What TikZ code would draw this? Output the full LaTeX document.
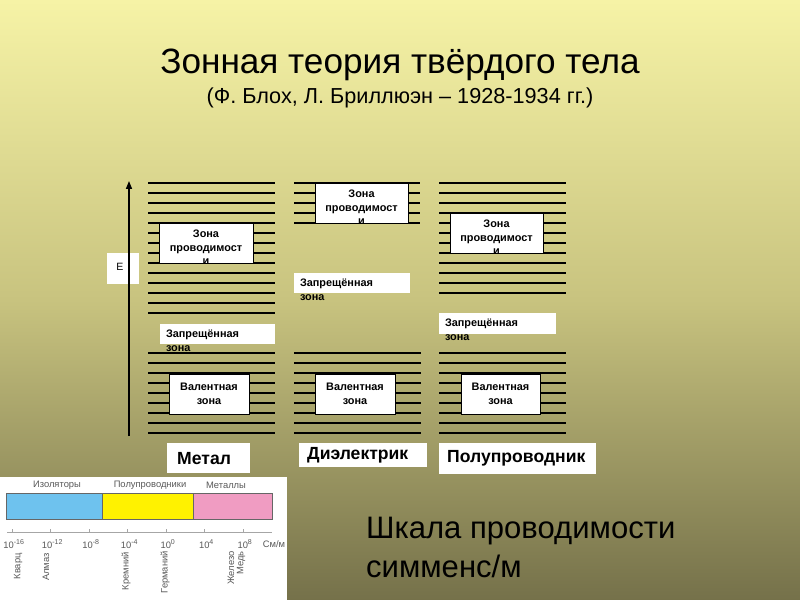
\documentclass[tikz,border=0pt]{standalone}
\usepackage{fontspec}
\setmainfont{Liberation Sans}
\usetikzlibrary{positioning}
\usetikzlibrary{fit}
\usetikzlibrary{arrows.meta}
\tikzset{>={Triangle[width=1.8mm,length=2.4mm]}}
\definecolor{bgtop}{HTML}{F6F3A6}
\definecolor{bgmid}{HTML}{C8C37F}
\definecolor{bgbot}{HTML}{75714A}
\definecolor{isoblue}{HTML}{6EC2EE}
\definecolor{semiyellow}{HTML}{FFF200}
\definecolor{metpink}{HTML}{F09CC2}

\begin{document}
\begin{tikzpicture}[x=0.3mm, y=-0.3mm]
      \tikzstyle{band} = [line width=0.6mm, black]
      \tikzstyle{zbox} = [draw=black, fill=white, line width=0.3pt, inner sep=0pt]
      \tikzstyle{ztext} = [font=\bfseries\fontsize{9.3}{11.5}\selectfont, align=center, inner sep=0pt]
      \tikzstyle{gbox} = [fill=white, inner sep=0pt]
      \tikzstyle{gtext} = [font=\bfseries\fontsize{9.3}{11.5}\selectfont, align=left, inner sep=0pt, anchor=north west]
      \tikzstyle{lbox} = [fill=white, font=\bfseries\fontsize{15}{17}\selectfont, align=left, anchor=north west, inner xsep=2.4mm, inner ysep=0pt]
      \tikzstyle{stext} = [font=\fontsize{8}{9}\selectfont, text=black!65, inner sep=0pt]

      % background
      \fill[top color=bgtop, bottom color=bgbot, middle color=bgmid] (0,0) rectangle (800,600);
      \useasboundingbox (0,0) rectangle (800,600);

      \node[font=\fontsize{30}{34}\selectfont, anchor=base] (title) at (400,74) {Зонная теория твёрдого тела};
      \node[font=\fontsize{18.5}{21}\selectfont, anchor=base] (sub) at (400,104) {(Ф. Блох, Л. Бриллюэн – 1928-1934 гг.)};

      % energy levels
      \foreach \y in {183,193,...,313} \draw[band] (148,\y) -- (275,\y);
      \foreach \y in {183,193,...,223} \draw[band] (294,\y) -- (420,\y);
      \foreach \y in {183,193,...,293} \draw[band] (439,\y) -- (566,\y);
      \foreach \x in {148,294,439}
        \foreach \y in {353,363,...,433} \draw[band] (\x,\y) -- ++(127,0);

      \node[zbox, fit={(159,223) (253,263)}] (cm) {};
      \node[zbox, fit={(315,183) (408,223)}] (cd) {};
      \node[zbox, fit={(450,213) (543,253)}] (cs) {};
      \begin{scope}
        \clip (cm.north west) rectangle (cm.south east);
        \node[ztext, anchor=north] (cmt) at ([yshift=-2.1mm]cm.north) {Зона\\проводимост\\и};
      \end{scope}
      \begin{scope}
        \clip (cd.north west) rectangle (cd.south east);
        \node[ztext, anchor=north] (cdt) at ([yshift=-2.1mm]cd.north) {Зона\\проводимост\\и};
      \end{scope}
      \begin{scope}
        \clip (cs.north west) rectangle (cs.south east);
        \node[ztext, anchor=north] (cst) at ([yshift=-2.1mm]cs.north) {Зона\\проводимост\\и};
      \end{scope}

      \node[zbox, fit={(169,374) (249,414)}] (vm) {};
      \node[zbox, fit={(315,374) (395,414)}] (vd) {};
      \node[zbox, fit={(461,374) (540,414)}] (vs) {};
      \node[ztext] (vmt) at (vm) {Валентная\\зона};
      \node[ztext] (vdt) at (vd) {Валентная\\зона};
      \node[ztext] (vst) at (vs) {Валентная\\зона};

      \node[gbox, fit={(160,324) (275,344)}] (fm) {};
      \node[gbox, fit={(294,273) (410,293)}] (fd) {};
      \node[gbox, fit={(439,313) (556,334)}] (fs) {};
      \node[gtext] (fmt) at ([xshift=1.8mm,yshift=-1.8mm]fm.north west) {Запрещённая\\зона};
      \node[gtext] (fdt) at ([xshift=1.8mm,yshift=-1.8mm]fd.north west) {Запрещённая\\зона};
      \node[gtext] (fst) at ([xshift=1.8mm,yshift=-1.8mm]fs.north west) {Запрещённая\\зона};

      % energy axis
      \node[gbox, fit={(107,253) (139,284)}] (ebox) {};
      \node[font=\fontsize{9}{10}\selectfont, inner sep=0pt] (elabel) at (120,267) {E};
      \coordinate (eb) at (129,436);
      \coordinate (et) at (129,181);
      \draw[->, line width=0.45mm] (eb) -- (et);

      \node[lbox, inner xsep=3mm, text width=18.9mm, minimum height=9mm] (lm) at (167,443) {Метал};
      \node[lbox, text width=33.6mm, minimum height=7.2mm] (ld) at (299,443) {Диэлектрик};
      \node[lbox, text width=42.3mm, minimum height=9.3mm] (ls) at (439,443) {Полупроводник};

      % conductivity scale
      \fill[white] (0,477) rectangle (287,600);
      \node[stext] (iso) at (57,485) {Изоляторы};
      \node[stext] (semi) at (150,485) {Полупроводники};
      \node[stext] (met) at (226,485) {Металлы};
      \draw[black!60, line width=0.3pt, fill=isoblue] (6,493) rectangle (102,519);
      \draw[black!60, line width=0.3pt, fill=semiyellow] (102,493) rectangle (193,519);
      \draw[black!60, line width=0.3pt, fill=metpink] (193,493) rectangle (272,519);
      \draw[black!35, line width=0.3pt] (7,532) -- (272,532);
      \foreach \e [count=\i from 0] in {-16,-12,-8,-4,0,4,8} {
        \draw[black!35, line width=0.3pt] (12+38.5*\i,529) -- (12+38.5*\i,532);
        \node[stext] (tick\i) at (14+38.5*\i,544) {10\textsuperscript{\e}};
      }
      \node[stext] (unit) at (274,544) {См/м};
      \node[stext, rotate=90, anchor=east] (kv) at (18,553) {Кварц};
      \node[stext, rotate=90, anchor=east] (al) at (46,553) {Алмаз};
      \node[stext, rotate=90, anchor=east] (kr) at (126,552) {Кремний};
      \node[stext, rotate=90, anchor=east] (ge) at (165,551) {Германий};
      \node[stext, rotate=90, anchor=east] (fe) at (231,551) {Железо};
      \node[stext, rotate=90, anchor=east] (cu) at (241,551) {Медь};

      \node[font=\fontsize{26.5}{30}\selectfont, anchor=base west] (scl) at (362,538) {Шкала проводимости};
      \node[font=\fontsize{26.5}{30}\selectfont, anchor=base west] (sunit) at (362,577) {симменс/м};
\end{tikzpicture}
\end{document}
